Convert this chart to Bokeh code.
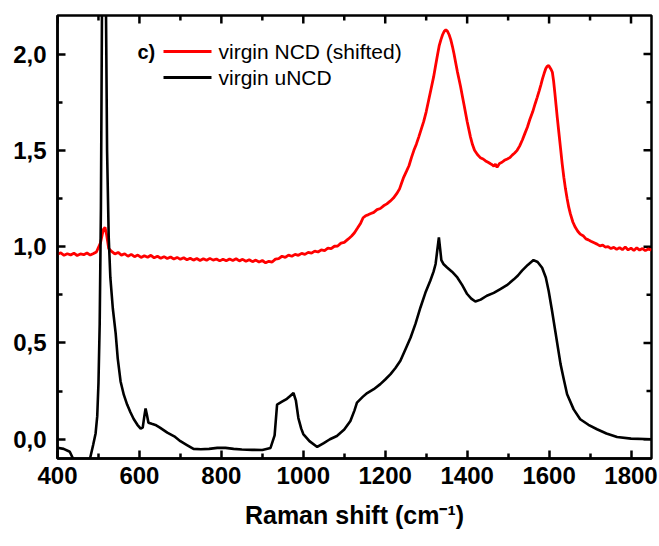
from bokeh.plotting import figure
from bokeh.models import (Range1d, FixedTicker, LinearAxis, CustomJSTickFormatter,
                          ColumnDataSource)
from bokeh.core.properties import value
from bokeh.embed import file_html
from bokeh.resources import INLINE

# ---------------- data ----------------
ncd_x = [400, 408, 416, 424, 432, 440, 448, 456, 464, 472, 480, 488, 495, 505, 512, 516, 520,
         525, 532, 540, 548, 556, 564, 572, 580, 588, 596, 604, 612, 620, 628, 636, 644, 652,
         660, 668, 676, 684, 692, 700, 708, 716, 724, 732, 740, 748, 756, 764, 772, 780, 788,
         796, 804, 812, 820, 828, 836, 844, 852, 860, 868, 876, 884, 892, 900, 908, 916, 924,
         932, 940, 948, 956, 964, 972, 980, 988, 996, 1004, 1012, 1020, 1028, 1036, 1044, 1052,
         1060, 1068, 1076, 1084, 1092, 1100, 1110, 1118, 1125, 1132, 1140, 1146, 1152, 1158,
         1165, 1172, 1180, 1188, 1196, 1204, 1212, 1220, 1228, 1235, 1240, 1245, 1252, 1258,
         1264, 1270, 1276, 1282, 1288, 1294, 1300, 1306, 1312, 1318, 1323, 1328, 1332, 1336,
         1340, 1344, 1348, 1352, 1356, 1360, 1364, 1368, 1372, 1376, 1380, 1384, 1388, 1392,
         1396, 1400, 1404, 1408, 1413, 1418, 1425, 1432, 1439, 1445, 1451, 1457, 1461, 1465,
         1469, 1473, 1479, 1485, 1491, 1498, 1504, 1510, 1516, 1522, 1528, 1535, 1541, 1547,
         1553, 1560, 1566, 1571, 1576, 1580, 1584, 1588, 1592, 1595, 1599, 1602, 1605, 1608,
         1611, 1614, 1617, 1620, 1624, 1628, 1632, 1636, 1640, 1644, 1648, 1652, 1658, 1664,
         1670, 1676, 1684, 1690, 1696, 1702, 1710, 1717, 1724, 1731, 1737, 1744, 1751, 1758,
         1765, 1772, 1779, 1786, 1793, 1800, 1807, 1814, 1821, 1828, 1835, 1842, 1850]
ncd_y = [0.960, 0.968, 0.955, 0.963, 0.957, 0.966, 0.954, 0.962, 0.958, 0.967, 0.956, 0.964,
         0.972, 1.020, 1.090, 1.100, 1.060, 0.990, 0.975, 0.962, 0.970, 0.956, 0.963, 0.950,
         0.960, 0.948, 0.956, 0.944, 0.953, 0.945, 0.955, 0.942, 0.950, 0.940, 0.948, 0.938,
         0.946, 0.936, 0.944, 0.934, 0.942, 0.932, 0.940, 0.930, 0.938, 0.928, 0.937, 0.929,
         0.939, 0.930, 0.936, 0.926, 0.935, 0.927, 0.936, 0.928, 0.937, 0.926, 0.934, 0.924,
         0.932, 0.922, 0.930, 0.920, 0.928, 0.916, 0.924, 0.920, 0.935, 0.938, 0.950, 0.944,
         0.956, 0.950, 0.960, 0.955, 0.965, 0.960, 0.970, 0.966, 0.977, 0.972, 0.983, 0.979,
         0.992, 0.990, 1.002, 1.003, 1.018, 1.022, 1.040, 1.055, 1.072, 1.095, 1.122, 1.150,
         1.160, 1.165, 1.172, 1.178, 1.192, 1.198, 1.212, 1.222, 1.236, 1.252, 1.275, 1.300,
         1.330, 1.360, 1.392, 1.420, 1.462, 1.500, 1.532, 1.570, 1.610, 1.650, 1.700, 1.760,
         1.820, 1.880, 1.940, 2.000, 2.045, 2.075, 2.100, 2.118, 2.126, 2.118, 2.100, 2.075,
         2.040, 2.000, 1.955, 1.910, 1.870, 1.830, 1.785, 1.740, 1.695, 1.650, 1.610, 1.570,
         1.530, 1.500, 1.478, 1.462, 1.455, 1.445, 1.438, 1.430, 1.425, 1.418, 1.428, 1.412,
         1.432, 1.438, 1.448, 1.455, 1.462, 1.475, 1.486, 1.500, 1.522, 1.555, 1.588, 1.620,
         1.660, 1.700, 1.742, 1.775, 1.810, 1.840, 1.872, 1.900, 1.925, 1.935, 1.940, 1.930,
         1.920, 1.905, 1.860, 1.800, 1.735, 1.670, 1.590, 1.510, 1.430, 1.360, 1.300, 1.250,
         1.205, 1.170, 1.128, 1.100, 1.080, 1.065, 1.055, 1.040, 1.035, 1.028, 1.020, 1.013,
         1.004, 1.008, 0.998, 1.000, 0.990, 0.996, 0.986, 0.995, 0.984, 0.998, 0.983, 0.992,
         0.980, 0.994, 0.982, 0.990, 0.979, 0.988, 0.982]

uncd_x = [400, 415, 430, 440, 455, 470, 480, 487, 493, 497, 500, 503, 506, 509, 513, 517, 521,
          525, 529, 535, 542, 547, 554, 562, 570, 578, 586, 595, 603, 608, 612, 615, 618, 622,
          630, 639, 650, 668, 685, 700, 716, 732, 750, 770, 790, 810, 830, 850, 875, 900, 920,
          930, 936, 948, 960, 968, 976, 982, 988, 995, 1000, 1015, 1034, 1050, 1065, 1082, 1100,
          1115, 1125, 1131, 1145, 1156, 1172, 1188, 1200, 1213, 1225, 1237, 1250, 1262, 1274,
          1286, 1298, 1310, 1318, 1323, 1327, 1331, 1334, 1337, 1342, 1351, 1363, 1376, 1388,
          1400, 1410, 1420, 1433, 1448, 1465, 1481, 1497, 1514, 1524, 1534, 1548, 1562, 1572,
          1583, 1592, 1599, 1607, 1615, 1622, 1628, 1636, 1644, 1660, 1676, 1696, 1717, 1740,
          1766, 1800, 1850]
uncd_y = [-0.044, -0.050, -0.065, -0.110, -0.140, -0.140, -0.095, -0.030, 0.030, 0.120, 0.290,
          0.600, 1.200, 2.400, 4.200, 2.600, 1.500, 1.050, 0.840, 0.680, 0.550, 0.420, 0.300,
          0.230, 0.180, 0.140, 0.105, 0.075, 0.055, 0.060, 0.120, 0.160, 0.130, 0.086, 0.080,
          0.074, 0.060, 0.034, 0.015, -0.010, -0.030, -0.050, -0.052, -0.050, -0.045, -0.045,
          -0.050, -0.053, -0.055, -0.056, -0.045, 0.020, 0.180, 0.195, 0.210, 0.225, 0.240,
          0.200, 0.110, 0.055, 0.027, -0.010, -0.040, -0.020, 0.000, 0.017, 0.050, 0.095, 0.150,
          0.190, 0.220, 0.240, 0.260, 0.286, 0.310, 0.338, 0.370, 0.407, 0.470, 0.528, 0.600,
          0.684, 0.760, 0.823, 0.870, 0.910, 0.980, 1.048, 0.990, 0.930, 0.910, 0.892, 0.870,
          0.840, 0.800, 0.754, 0.730, 0.715, 0.725, 0.745, 0.760, 0.780, 0.800, 0.830, 0.850,
          0.875, 0.905, 0.930, 0.920, 0.890, 0.840, 0.770, 0.670, 0.563, 0.470, 0.390, 0.310,
          0.234, 0.155, 0.104, 0.075, 0.052, 0.030, 0.012, 0.003, 0.000]

x_ticks = [400, 600, 800, 1000, 1200, 1400, 1600, 1800]
x_minor = [500, 700, 900, 1100, 1300, 1500, 1700]
y_ticks = [0.0, 0.5, 1.0, 1.5, 2.0]
y_minor = [0.25, 0.75, 1.25, 1.75]
series_labels = ["virgin NCD (shifted)", "virgin uNCD"]
series_colors = ["#ff0000", "black"]
panel_tag = "c)"
x_title = "Raman shift (cm\u207b\u00b9)"

X0, X1, Y0, Y1 = 400, 1850, -0.1, 2.2
W, H = 659, 546
BL, BR, BT, BB = 57, 8, 15, 88
FONT = "Liberation Sans"

p = figure(width=W, height=H, output_backend="svg", toolbar_location=None,
           x_range=Range1d(X0, X1), y_range=Range1d(Y0, Y1),
           min_border_left=BL, min_border_right=BR, min_border_top=BT, min_border_bottom=BB,
           x_axis_location=None, y_axis_location=None)
p.grid.visible = False
p.outline_line_color = "black"
p.outline_line_width = 2.5

comma = CustomJSTickFormatter(code="return tick.toFixed(1).replace('.', ',');")


def style(ax):
    ax.axis_line_width = 2.5
    ax.axis_line_color = "black"
    ax.major_tick_in = 8
    ax.major_tick_out = 0
    ax.minor_tick_in = 5
    ax.minor_tick_out = 0
    ax.major_tick_line_width = 2.5
    ax.minor_tick_line_width = 2.5
    ax.major_tick_line_color = "black"
    ax.minor_tick_line_color = "black"
    ax.major_label_text_font = FONT
    ax.major_label_text_font_style = "bold"
    ax.major_label_text_font_size = "24px"
    ax.major_label_text_color = "black"


xb = LinearAxis(ticker=FixedTicker(ticks=x_ticks, minor_ticks=x_minor))
style(xb)
xb.major_label_standoff = 8
xb.axis_label = x_title
xb.axis_label_text_font = FONT
xb.axis_label_text_font_style = "bold"
xb.axis_label_text_font_size = "25px"
xb.axis_label_text_color = "black"
xb.axis_label_standoff = 14
p.add_layout(xb, "below")

yl = LinearAxis(ticker=FixedTicker(ticks=y_ticks, minor_ticks=y_minor), formatter=comma)
style(yl)
yl.major_label_standoff = 11
p.add_layout(yl, "left")

# pixel -> data conversion for positions given in screen pixels
px_per_x = (W - BL - BR) / (X1 - X0)
px_per_y = (H - BT - BB) / (Y1 - Y0)


def dx(px):
    return X0 + (px - BL) / px_per_x


def dy(py):
    return Y1 - (py - BT) / px_per_y


# mirrored inward ticks on the top and right frame edges (short segments, clipped by frame)
def ticks_top(vals, length_px):
    d = length_px / px_per_y
    p.segment(x0=vals, y0=[Y1 + 0.03] * len(vals), x1=vals, y1=[Y1 - d] * len(vals),
              line_color="black", line_width=2.5)


def ticks_right(vals, length_px):
    d = length_px / px_per_x
    p.segment(x0=[X1 + 10] * len(vals), y0=vals, x1=[X1 - d] * len(vals), y1=vals,
              line_color="black", line_width=2.5)


ticks_top(x_ticks, 8)
ticks_top(x_minor, 5)
ticks_right(y_ticks, 8)
ticks_right(y_minor, 5)

src_ncd = ColumnDataSource(dict(x=ncd_x, y=ncd_y))
src_uncd = ColumnDataSource(dict(x=uncd_x, y=uncd_y))
p.line("x", "y", source=src_ncd, line_color=series_colors[0], line_width=2.8)
p.line("x", "y", source=src_uncd, line_color=series_colors[1], line_width=2.6)

# legend drawn with glyphs (sample lines + labels) at fixed screen positions
leg_rows = [51, 77]
leg_src = ColumnDataSource(dict(
    x0=[dx(163)] * 2, x1=[dx(211)] * 2, y=[dy(r) for r in leg_rows],
    tx=[dx(218)] * 2, label=series_labels, color=series_colors))
p.segment(x0="x0", y0="y", x1="x1", y1="y", source=leg_src, line_color="color",
          line_width=3)
p.text(x="tx", y="y", text="label", source=leg_src, text_font=value(FONT),
       text_font_size="21px", text_baseline="middle", text_align="left",
       text_color="black")
p.text(x=[dx(137)], y=[dy(leg_rows[0])], text=[panel_tag], text_font=value(FONT),
       text_font_style="bold", text_font_size="20px", text_baseline="middle",
       text_align="left", text_color="black")

open("out.html", "w").write(file_html(p, INLINE))
